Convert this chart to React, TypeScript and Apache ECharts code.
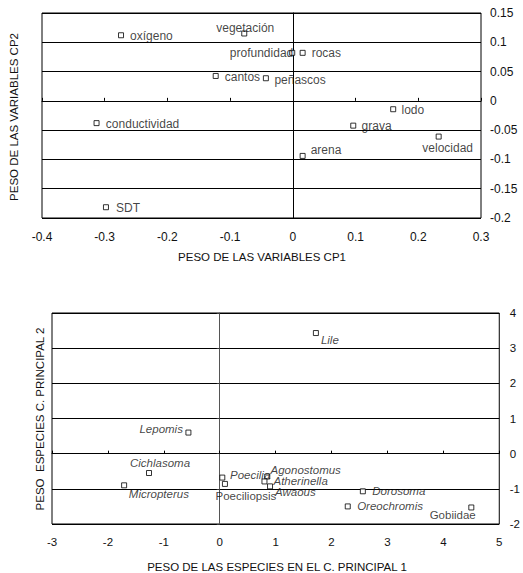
import React, { useEffect, useRef } from "react";
import * as echarts from "echarts";

// ---- Top chart: variable loadings ----
const varNames = ["oxígeno", "vegetación", "profundidad", "rocas", "cantos", "peñascos", "lodo", "conductividad", "grava", "velocidad", "arena", "SDT"];
const varCP1 = [-0.274, -0.0775, -0.001, 0.0156, -0.123, -0.043, 0.16, -0.313, 0.0963, 0.2325, 0.0156, -0.298];
const varCP2 = [0.112, 0.115, 0.082, 0.082, 0.0425, 0.0386, -0.0143, -0.038, -0.0423, -0.061, -0.094, -0.1816];
const topXTicks = [-0.4, -0.3, -0.2, -0.1, 0, 0.1, 0.2, 0.3];
const topYTicks = [-0.2, -0.15, -0.1, -0.05, 0, 0.05, 0.1, 0.15];

// ---- Bottom chart: species loadings ----
const spNames = ["Lile", "Lepomis", "Cichlasoma", "Micropterus", "Poecilia", "Poeciliopsis", "Agonostomus", "Atherinella", "Awaous", "Dorosoma", "Oreochromis", "Gobiidae"];
const spCP1 = [1.72, -0.56, -1.265, -1.71, 0.046, 0.093, 0.85, 0.8, 0.9, 2.56, 2.29, 4.5];
const spCP2 = [3.43, 0.6, -0.55, -0.9, -0.68, -0.86, -0.65, -0.79, -0.93, -1.07, -1.5, -1.53];
const botXTicks = [-3, -2, -1, 0, 1, 2, 3, 4, 5];
const botYTicks = [-2, -1, 0, 1, 2, 3, 4];

// label placement (style): [align, dx, dy] relative to the point centre
const topPlace: Record<string, [string, number, number]> = {
  "oxígeno": ["left", 9, 1],
  "vegetación": ["center", 1, -6],
  "profundidad": ["right", 1, 0.5],
  "rocas": ["left", 9, 0.5],
  "cantos": ["left", 9, 1],
  "peñascos": ["left", 8.5, 1.5],
  "lodo": ["left", 8.3, 0.5],
  "conductividad": ["left", 9.3, 0.5],
  "grava": ["left", 8.3, 0],
  "velocidad": ["center", 9, 11.5],
  "arena": ["left", 8, -6],
  "SDT": ["left", 10, 1],
};
const botPlace: Record<string, [string, number, number]> = {
  "Lile": ["left", 5, 7],
  "Lepomis": ["right", -5.5, -4],
  "Cichlasoma": ["center", 11, -10],
  "Micropterus": ["left", 4.7, 8.6],
  "Poecilia": ["left", 7.7, -3],
  "Poeciliopsis": ["left", -9.4, 12],
  "Agonostomus": ["left", 3.3, -6.5],
  "Atherinella": ["left", 9, 0],
  "Awaous": ["left", 5, 5.5],
  "Dorosoma": ["left", 9.4, 0],
  "Oreochromis": ["left", 9.4, 0],
  "Gobiidae": ["right", 4.4, 8],
};
const upright = new Set(["Poeciliopsis", "Gobiidae"]);

const FONT = "'Liberation Sans', Arial, sans-serif";
const TXT = "#111";

function buildData(names: string[], xs: number[], ys: number[], place: Record<string, [string, number, number]>, italicMode: boolean) {
  return names.map((n, i) => {
    const p = place[n] || ["left", 8, 0];
    return {
      name: n,
      value: [xs[i], ys[i]],
      label: {
        show: true,
        position: "inside",
        formatter: n,
        align: p[0],
        verticalAlign: "middle",
        offset: [p[1], p[2]],
        fontFamily: FONT,
        fontSize: italicMode ? 11.5 : 12,
        fontStyle: italicMode && !upright.has(n) ? "italic" : "normal",
        color: TXT,
      },
    };
  });
}

export default function App() {
  const ref = useRef<HTMLDivElement>(null);
  useEffect(() => {
    document.body.style.margin = "0";
    if (!ref.current) return;
    const chart = echarts.init(ref.current, null, { renderer: "svg" });
    const black = "#000";
    const topStep = topXTicks[1] - topXTicks[0];
    const topYStep = topYTicks[1] - topYTicks[0];
    const axisLabelStyle = { fontFamily: FONT, fontSize: 12, color: TXT };
    const option: any = {
      animation: false,
      backgroundColor: "#fff",
      grid: [
        { left: 42, top: 13, width: 439, height: 205, show: true, borderColor: black, borderWidth: 1, backgroundColor: "transparent" },
        { left: 52, top: 313, width: 454, height: 211, show: true, borderColor: black, borderWidth: 1, backgroundColor: "transparent" },
      ],
      xAxis: [
        {
          gridIndex: 0, type: "value", min: topXTicks[0], max: topXTicks[topXTicks.length - 1], interval: topStep,
          position: "bottom", axisLine: { show: false, onZero: false }, axisTick: { show: false }, splitLine: { show: false },
          axisLabel: { ...axisLabelStyle, margin: 13, formatter: (v: number) => String(Math.round(v * 100) / 100) },
        },
        {
          gridIndex: 0, type: "value", min: topXTicks[0], max: topXTicks[topXTicks.length - 1], interval: topStep,
          position: "bottom", axisLine: { show: true, onZero: true, lineStyle: { color: black, width: 1 } },
          axisTick: { show: true, inside: true, length: 3, lineStyle: { color: black } }, splitLine: { show: false }, axisLabel: { show: false },
        },
        {
          gridIndex: 1, type: "value", min: botXTicks[0], max: botXTicks[botXTicks.length - 1], interval: 1,
          position: "bottom", axisLine: { show: false, onZero: false }, axisTick: { show: false }, splitLine: { show: false },
          axisLabel: { ...axisLabelStyle, fontSize: 11.5, margin: 12 },
        },
        {
          gridIndex: 1, type: "value", min: botXTicks[0], max: botXTicks[botXTicks.length - 1], interval: 1,
          position: "bottom", axisLine: { show: true, onZero: true, lineStyle: { color: black, width: 1 } },
          axisTick: { show: true, inside: true, length: 3, lineStyle: { color: black } }, splitLine: { show: false }, axisLabel: { show: false },
        },
      ],
      yAxis: [
        {
          gridIndex: 0, type: "value", min: topYTicks[0], max: topYTicks[topYTicks.length - 1], interval: topYStep,
          position: "right", axisLine: { show: false, onZero: false }, axisTick: { show: false },
          splitLine: { show: true, lineStyle: { color: black, width: 1 } },
          axisLabel: { ...axisLabelStyle, margin: 9, formatter: (v: number) => String(Math.round(v * 100) / 100) },
        },
        {
          gridIndex: 0, type: "value", min: topYTicks[0], max: topYTicks[topYTicks.length - 1], interval: topYStep,
          position: "left", axisLine: { show: true, onZero: true, lineStyle: { color: black, width: 1 } },
          axisTick: { show: true, length: 3, lineStyle: { color: black } }, splitLine: { show: false }, axisLabel: { show: false },
        },
        {
          gridIndex: 1, type: "value", min: botYTicks[0], max: botYTicks[botYTicks.length - 1], interval: 1,
          position: "right", axisLine: { show: false, onZero: false }, axisTick: { show: false },
          splitLine: { show: true, lineStyle: { color: black, width: 1 } },
          axisLabel: { ...axisLabelStyle, fontSize: 11.5, margin: 10.5 },
        },
        {
          gridIndex: 1, type: "value", min: botYTicks[0], max: botYTicks[botYTicks.length - 1], interval: 1,
          position: "left", axisLine: { show: true, onZero: true, lineStyle: { color: "#555", width: 1 } },
          axisTick: { show: true, length: 3, lineStyle: { color: "#333" } }, splitLine: { show: false }, axisLabel: { show: false },
        },
      ],
      series: [
        {
          type: "scatter", xAxisIndex: 0, yAxisIndex: 0, symbol: "rect", symbolSize: 5,
          itemStyle: { color: "#fff", borderColor: "#000", borderWidth: 1 },
          data: buildData(varNames, varCP1, varCP2, topPlace, false),
          z: 5,
        },
        {
          type: "scatter", xAxisIndex: 2, yAxisIndex: 2, symbol: "rect", symbolSize: 5,
          itemStyle: { color: "#fff", borderColor: "#000", borderWidth: 1 },
          data: buildData(spNames, spCP1, spCP2, botPlace, true),
          z: 5,
        },
      ],
      graphic: [
        { type: "text", x: 262, y: 257, style: { text: "PESO DE LAS VARIABLES CP1", font: `11.5px ${FONT}`, fill: TXT, align: "center", verticalAlign: "middle" } },
        { type: "text", x: 14, y: 117, rotation: Math.PI / 2, style: { text: "PESO DE LAS VARIABLES CP2", font: `11.5px ${FONT}`, fill: TXT, align: "center", verticalAlign: "middle" } },
        { type: "text", x: 277, y: 567, style: { text: "PESO DE LAS ESPECIES EN EL C. PRINCIPAL 1", font: `11.5px ${FONT}`, fill: TXT, align: "center", verticalAlign: "middle" } },
        { type: "text", x: 40, y: 419, rotation: Math.PI / 2, style: { text: "PESO  ESPECIES C. PRINCIPAL 2", font: `11.5px ${FONT}`, fill: TXT, align: "center", verticalAlign: "middle" } },
      ],
    };
    chart.setOption(option);
    return () => chart.dispose();
  }, []);
  return <div ref={ref} style={{ width: 523, height: 573 }} />;
}
